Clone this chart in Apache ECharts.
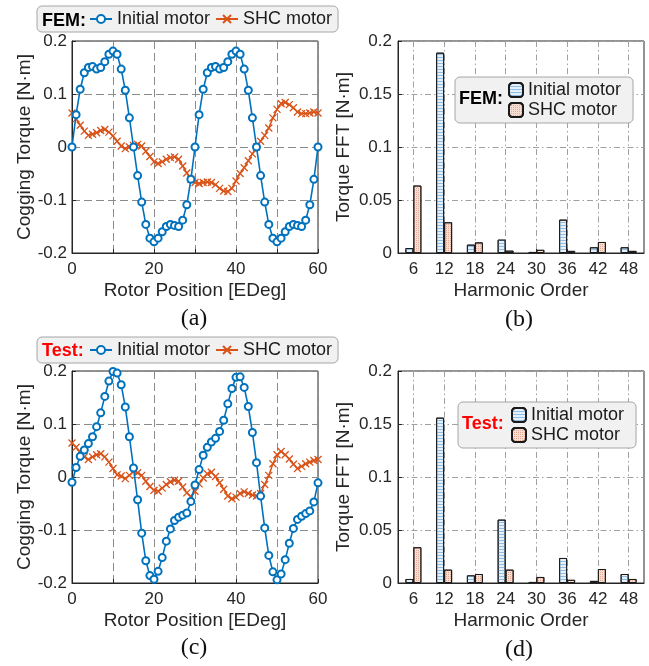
<!DOCTYPE html>
<html><head><meta charset="utf-8">
<script src="https://cdn.jsdelivr.net/npm/echarts@6/dist/echarts.min.js"></script>
<style>html,body{margin:0;padding:0;background:#fff}#c{width:649px;height:666px}</style>
</head><body><div id="c"></div>
<script>
// ---------- data ----------
const rotorPos = [0,1,2,3,4,5,6,7,8,9,10,11,12,13,14,15,16,17,18,19,20,21,22,23,24,25,26,27,28,29,30,31,32,33,34,35,36,37,38,39,40,41,42,43,44,45,46,47,48,49,50,51,52,53,54,55,56,57,58,59,60];
const femInitial = [0,0.061,0.109,0.140,0.150,0.152,0.147,0.150,0.161,0.175,0.181,0.175,0.147,0.107,0.055,0,-0.054,-0.104,-0.146,-0.172,-0.179,-0.172,-0.160,-0.150,-0.146,-0.148,-0.150,-0.138,-0.109,-0.061,0,0.061,0.109,0.140,0.150,0.152,0.147,0.150,0.161,0.175,0.181,0.175,0.147,0.107,0.055,0,-0.054,-0.104,-0.146,-0.172,-0.179,-0.172,-0.160,-0.150,-0.146,-0.148,-0.150,-0.138,-0.109,-0.061,0];
const femSHC = [0.064,0.053,0.041,0.030,0.022,0.024,0.027,0.031,0.033,0.028,0.021,0.011,0.002,-0.003,0,0.003,0.005,0.002,-0.008,-0.018,-0.028,-0.031,-0.028,-0.023,-0.020,-0.019,-0.023,-0.036,-0.049,-0.061,-0.067,-0.069,-0.067,-0.066,-0.067,-0.071,-0.078,-0.083,-0.084,-0.078,-0.064,-0.050,-0.039,-0.026,-0.013,0,0.011,0.022,0.036,0.055,0.071,0.082,0.084,0.080,0.074,0.066,0.063,0.063,0.064,0.066,0.064];
const testInitial = [-0.010,0.018,0.039,0.051,0.063,0.076,0.095,0.121,0.152,0.181,0.199,0.196,0.174,0.132,0.076,0.017,-0.043,-0.106,-0.158,-0.186,-0.193,-0.178,-0.152,-0.121,-0.098,-0.082,-0.076,-0.072,-0.068,-0.046,-0.015,0.014,0.041,0.056,0.066,0.073,0.086,0.107,0.138,0.167,0.188,0.189,0.169,0.133,0.084,0.027,-0.036,-0.096,-0.148,-0.179,-0.194,-0.183,-0.156,-0.125,-0.097,-0.080,-0.074,-0.069,-0.064,-0.047,-0.011];
const testSHC = [0.064,0.056,0.046,0.038,0.033,0.038,0.042,0.044,0.038,0.028,0.016,0.004,0.002,-0.003,0.003,0.011,0.008,0.003,-0.008,-0.018,-0.025,-0.027,-0.021,-0.014,-0.009,-0.006,-0.008,-0.019,-0.030,-0.037,-0.027,-0.013,-0.002,0.006,0.009,0.001,-0.011,-0.023,-0.036,-0.041,-0.038,-0.031,-0.028,-0.031,-0.034,-0.036,-0.031,-0.014,0.003,0.025,0.042,0.048,0.042,0.034,0.024,0.016,0.020,0.025,0.028,0.031,0.033];

const harmonics = ['6','12','18','24','30','36','42','48'];
const fftFemInitial = [0.0047,0.189,0.0079,0.0126,0.001,0.0315,0.0054,0.0054];
const fftFemSHC = [0.0636,0.029,0.010,0.0022,0.003,0.002,0.0104,0.002];
const fftTestInitial = [0.0038,0.156,0.0072,0.0598,0.001,0.0236,0.002,0.0085];
const fftTestSHC = [0.0337,0.0126,0.0085,0.0126,0.0057,0.003,0.0132,0.0038];

const torqueTicks = [-0.2,-0.1,0,0.1,0.2];
const fftTicks = [0,0.05,0.1,0.15,0.2];

// ---------- styling ----------
const FONT = 'Liberation Sans, Arial, sans-serif';
const BLUE = '#0072BD', ORANGE = '#D95319', TXT = '#262626';
const xMarker = 'path://M0,0L10,10M10,0L0,10';

const grids = [
  {left:72, top:41, width:246, height:212},
  {left:398, top:41, width:246, height:212},
  {left:72, top:371, width:246, height:212},
  {left:398, top:371, width:246, height:212}
].map(g => Object.assign(g, {show:true, borderColor:'#262626', borderWidth:1, backgroundColor:'#fff'}));

function fmt(v){ return Math.abs(v) < 1e-9 ? '0' : String(+v.toFixed(2)); }

function lineX(i){
  return {type:'value', gridIndex:i, min:0, max:60, interval:10,
    name:'Rotor Position [EDeg]', nameLocation:'middle', nameGap:28,
    nameTextStyle:{fontSize:19, color:TXT, fontFamily:FONT},
    axisLine:{show:true, onZero:false, lineStyle:{color:'#262626'}},
    axisTick:{show:true, inside:true, length:4, lineStyle:{color:'#262626'}},
    axisLabel:{fontSize:17, color:TXT, fontFamily:FONT, margin:8,
      formatter: v => (Math.round(v) % 20 === 0 ? String(Math.round(v)) : '')},
    splitLine:{show:true, lineStyle:{color:'#8a8a8a', type:[8,4], width:1}}};
}
function lineY(i){
  return {type:'value', gridIndex:i, min:torqueTicks[0], max:torqueTicks[4], interval:0.1,
    name:'Cogging Torque [N·m]', nameLocation:'middle', nameGap:37,
    nameTextStyle:{fontSize:19, color:TXT, fontFamily:FONT},
    axisLine:{show:true, onZero:false, lineStyle:{color:'#262626'}},
    axisTick:{show:true, inside:true, length:4, lineStyle:{color:'#262626'}},
    axisLabel:{fontSize:17, color:TXT, fontFamily:FONT, margin:5, formatter: fmt},
    splitLine:{show:true, lineStyle:{color:'#8a8a8a', type:[8,4], width:1}}};
}
function barX(i){
  return {type:'category', gridIndex:i, data:harmonics, boundaryGap:true,
    name:'Harmonic Order', nameLocation:'middle', nameGap:28,
    nameTextStyle:{fontSize:19, color:TXT, fontFamily:FONT},
    axisLine:{show:true, onZero:false, lineStyle:{color:'#262626'}},
    axisTick:{show:true, inside:true, length:4, alignWithLabel:true, lineStyle:{color:'#262626'}},
    axisLabel:{fontSize:17, color:TXT, fontFamily:FONT, margin:8, interval:0},
    splitLine:{show:true, alignWithLabel:true, interval:0, lineStyle:{color:'#a0a0a0', type:[6,3,1.5,3], width:1}}};
}
function barY(i){
  return {type:'value', gridIndex:i, min:fftTicks[0], max:fftTicks[4], interval:0.05,
    name:'Torque FFT [N·m]', nameLocation:'middle', nameGap:45,
    nameTextStyle:{fontSize:19, color:TXT, fontFamily:FONT},
    axisLine:{show:true, onZero:false, lineStyle:{color:'#262626'}},
    axisTick:{show:true, inside:true, length:4, lineStyle:{color:'#262626'}},
    axisLabel:{fontSize:17, color:TXT, fontFamily:FONT, margin:6, formatter: fmt},
    splitLine:{show:true, lineStyle:{color:'#a0a0a0', type:[6,3,1.5,3], width:1}}};
}

function initLine(name, vals, idx){
  return {name, type:'line', xAxisIndex:idx, yAxisIndex:idx,
    data: rotorPos.map((x,i)=>[x, vals[i]]),
    symbol:'emptyCircle', symbolSize:7, showSymbol:true,
    lineStyle:{color:BLUE, width:1.6},
    itemStyle:{color:BLUE, borderColor:BLUE, borderWidth:1.5},
    animation:false, z:3};
}
function shcLine(name, vals, idx){
  return {name, type:'line', xAxisIndex:idx, yAxisIndex:idx,
    data: rotorPos.map((x,i)=>[x, vals[i]]),
    symbol:xMarker, symbolSize:7, showSymbol:true,
    lineStyle:{color:ORANGE, width:1.5},
    itemStyle:{color:ORANGE, borderColor:ORANGE, borderWidth:1.3},
    animation:false, z:2};
}
const initDecal = {symbol:'rect', symbolSize:1, dashArrayX:[1,0], dashArrayY:[1,2], rotation:0, color:'#8fbde6'};
const shcDecal = {symbol:'rect', symbolSize:1, dashArrayX:[1,1], dashArrayY:[1,1], rotation:0, color:'#e3a994'};
function initBar(name, vals, idx){
  return {name, type:'bar', xAxisIndex:idx, yAxisIndex:idx, data:vals,
    barWidth:8, barGap:'0%',
    itemStyle:{color:'#e4f0fa', borderColor:'#1a1a1a', borderWidth:1, decal:initDecal},
    animation:false};
}
function shcBar(name, vals, idx){
  return {name, type:'bar', xAxisIndex:idx, yAxisIndex:idx, data:vals,
    barWidth:8, barGap:'0%',
    itemStyle:{color:'#f8ddd2', borderColor:'#1a1a1a', borderWidth:1, decal:shcDecal},
    animation:false};
}

const displayName = n => n.indexOf('SHC') >= 0 ? 'SHC motor' : 'Initial motor';
const legendBase = {
  backgroundColor:'#f1f1f1', borderColor:'#a6a6a6', borderWidth:1, borderRadius:5,
  selectedMode:false, formatter: displayName,
  textStyle:{fontSize:18, color:'#1a1a1a', fontFamily:FONT}
};
function lineLegend(top, names){
  return Object.assign({}, legendBase, {left:37, top, orient:'horizontal',
    padding:[4,6,4,52], itemWidth:22, itemHeight:10, itemGap:5, data:names});
}
function barLegend(left, top, names){
  return Object.assign({}, legendBase, {left, top, orient:'vertical',
    padding:[4,12,4,53], itemWidth:14, itemHeight:14, itemGap:2, data:names});
}

function label(text, x, y, color){
  return {type:'text', x, y, z:100,
    style:{text, fill:color, font:'bold 18px ' + FONT, textVerticalAlign:'middle', verticalAlign:'middle'}};
}
function caption(text, x, y){
  return {type:'text', x, y, z:100,
    style:{text, fill:'#111', font:'24px Liberation Serif, Times New Roman, serif',
      textAlign:'center', align:'center', textVerticalAlign:'middle', verticalAlign:'middle'}};
}

const option = {
  backgroundColor:'#fff',
  animation:false,
  textStyle:{fontFamily:FONT},
  grid: grids,
  xAxis:[lineX(0), barX(1), lineX(2), barX(3)],
  yAxis:[lineY(0), barY(1), lineY(2), barY(3)],
  legend:[
    lineLegend(6, ['FEM Initial','FEM SHC']),
    barLegend(455, 77, ['FEM fft Initial','FEM fft SHC']),
    lineLegend(337, ['Test Initial','Test SHC']),
    barLegend(458, 402, ['Test fft Initial','Test fft SHC'])
  ],
  series:[
    initLine('FEM Initial', femInitial, 0),
    shcLine('FEM SHC', femSHC, 0),
    initBar('FEM fft Initial', fftFemInitial, 1),
    shcBar('FEM fft SHC', fftFemSHC, 1),
    initLine('Test Initial', testInitial, 2),
    shcLine('Test SHC', testSHC, 2),
    initBar('Test fft Initial', fftTestInitial, 3),
    shcBar('Test fft SHC', fftTestSHC, 3)
  ],
  graphic:[
    label('FEM:', 42, 21, '#000'),
    label('Test:', 42, 351, '#ff0000'),
    label('FEM:', 459, 99, '#000'),
    label('Test:', 462, 424, '#ff0000'),
    caption('(a)', 194, 319),
    caption('(b)', 519, 320),
    caption('(c)', 194, 648),
    caption('(d)', 519, 650)
  ]
};
const chart = echarts.init(document.getElementById('c'), null, {renderer:'canvas'});
chart.setOption(option);
</script></body></html>
